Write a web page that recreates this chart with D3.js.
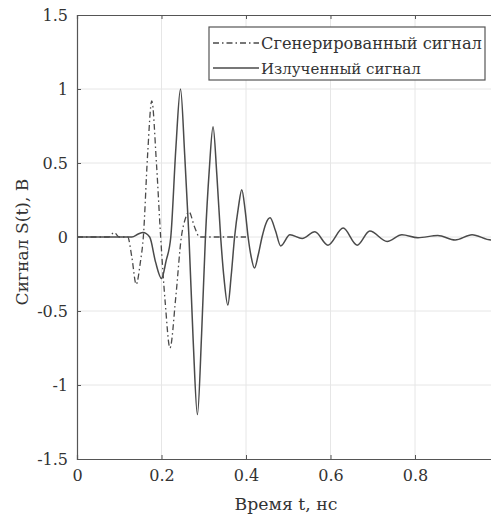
<!DOCTYPE html>
<html>
<head>
<meta charset="utf-8">
<script src="https://cdn.jsdelivr.net/npm/d3@7"></script>
<style>
  html, body { margin: 0; padding: 0; background: #fff; overflow: hidden; }
  svg { display: block; }
</style>
</head>
<body>
<div id="chart"></div>
<script>
// Generated signal (dash-dot)
const genT = [0, 0.075, 0.088, 0.1, 0.12, 0.13, 0.14, 0.15, 0.157, 0.167, 0.177, 0.188, 0.198, 0.209, 0.22, 0.234, 0.247, 0.256, 0.265, 0.278, 0.29, 0.3, 0.4];
const genS = [0, 0, 0.03, 0, 0, -0.14, -0.32, -0.17, 0, 0.55, 0.92, 0.5, 0, -0.45, -0.75, -0.4, 0, 0.12, 0.17, 0.07, 0, 0, 0];

// Emitted signal (solid)
const emitT = [0, 0.13, 0.145, 0.156, 0.172, 0.186, 0.2, 0.211, 0.222, 0.234, 0.245, 0.255, 0.265, 0.275, 0.285, 0.295, 0.304, 0.313, 0.322, 0.331, 0.34, 0.348, 0.357, 0.365, 0.373, 0.382, 0.39, 0.398, 0.405, 0.412, 0.42, 0.429, 0.438, 0.447, 0.457, 0.47, 0.482, 0.504, 0.533, 0.563, 0.594, 0.63, 0.663, 0.693, 0.734, 0.769, 0.807, 0.854, 0.895, 0.935, 0.98, 1.0];
const emitS = [0, 0, 0.02, 0.03, 0, -0.17, -0.28, -0.16, 0, 0.6, 1.0, 0.55, 0, -0.7, -1.2, -0.65, 0, 0.45, 0.745, 0.42, 0, -0.28, -0.46, -0.26, 0, 0.2, 0.32, 0.18, 0, -0.13, -0.21, -0.12, 0, 0.09, 0.13, 0.04, -0.06, 0.015, -0.01, 0.035, -0.055, 0.06, -0.055, 0.04, -0.03, 0.015, -0.005, 0.01, -0.02, 0.015, -0.02, -0.01];

const xTicks = [0, 0.2, 0.4, 0.6, 0.8, 1];
const yTicks = [-1.5, -1, -0.5, 0, 0.5, 1, 1.5];
const legendLabels = ['Сгенерированный сигнал', 'Излученный сигнал'];

const W = 491, H = 516;
// single serif family that carries Cyrillic (font lists fell back to sans here)
const FONT = '"DejaVu Serif"';
const lineColor = '#4a4a4a';

const svg = d3.select('#chart').append('svg')
  .attr('width', W).attr('height', H);

const x = d3.scaleLinear().domain([0, 1]).range([77, 499.5]);
const y = d3.scaleLinear().domain([-1.5, 1.5]).range([459, 15]);

// shrink/grow a text so its width matches the reference
function fitWidth(sel, target) {
  const w = sel.node().getComputedTextLength();
  const fs = parseFloat(sel.style('font-size'));
  if (w > 0) sel.style('font-size', (fs * target / w).toFixed(2) + 'px');
}

// grid
svg.append('g').selectAll('line').data(xTicks.slice(1)).enter().append('line')
  .attr('x1', d => x(d)).attr('x2', d => x(d))
  .attr('y1', y(-1.5)).attr('y2', y(1.5))
  .attr('stroke', '#e6e6e6').attr('stroke-width', 1);
svg.append('g').selectAll('line').data(yTicks.slice(1, -1)).enter().append('line')
  .attr('x1', x(0)).attr('x2', x(1))
  .attr('y1', d => y(d)).attr('y2', d => y(d))
  .attr('stroke', '#e6e6e6').attr('stroke-width', 1);

// curves
const gen = genT.map((t, i) => [t, genS[i]]);
const emit = emitT.map((t, i) => [t, emitS[i]]);
const line = d3.line().x(d => x(d[0])).y(d => y(d[1])).curve(d3.curveMonotoneX);

svg.append('path').datum(gen).attr('d', line)
  .attr('fill', 'none').attr('stroke', lineColor).attr('stroke-width', 1.3)
  .attr('stroke-dasharray', '6,3,1.5,3');
svg.append('path').datum(emit).attr('d', line)
  .attr('fill', 'none').attr('stroke', lineColor).attr('stroke-width', 1.5);

// axes (box style, ticks inside)
const axColor = '#555';
const fmt = d => String(d);
const xAxis = svg.append('g').attr('transform', `translate(0,${y(-1.5)})`)
  .call(d3.axisBottom(x).tickValues(xTicks).tickSize(-4).tickPadding(11).tickFormat(fmt));
const xAxisTop = svg.append('g').attr('transform', `translate(0,${y(1.5)})`)
  .call(d3.axisTop(x).tickValues(xTicks).tickSize(-4).tickFormat(''));
const yAxis = svg.append('g').attr('transform', `translate(${x(0)},0)`)
  .call(d3.axisLeft(y).tickValues(yTicks).tickSize(-4).tickPadding(9).tickFormat(fmt));

[xAxis, xAxisTop, yAxis].forEach(g => {
  g.select('.domain').attr('stroke', axColor).attr('stroke-width', 1.2);
  g.selectAll('.tick line').attr('stroke', axColor);
  g.selectAll('text').attr('fill', '#333')
    .style('font-family', FONT).style('font-size', '16px');
});
xAxis.selectAll('.tick').filter(d => d === 1).select('text').remove();

// axis labels
const xLabel = svg.append('text')
  .attr('x', 286).attr('y', 510)
  .attr('text-anchor', 'middle').attr('fill', '#333')
  .style('font-family', FONT).style('font-size', '18px')
  .text('Время t, нс');
fitWidth(xLabel, 103);

const yLabel = svg.append('text')
  .attr('transform', 'translate(28,242) rotate(-90)')
  .attr('text-anchor', 'middle').attr('fill', '#333')
  .style('font-family', FONT).style('font-size', '18px')
  .text('Сигнал S(t), В');
fitWidth(yLabel, 127);

// legend
const legend = svg.append('g');
legend.append('rect')
  .attr('x', 209).attr('y', 27).attr('width', 276).attr('height', 53)
  .attr('fill', '#fff').attr('stroke', axColor).attr('stroke-width', 1.2);
const ly = [43, 68];
const lw = [221, 160];
legendLabels.forEach((lbl, i) => {
  legend.append('line')
    .attr('x1', 213).attr('x2', 259).attr('y1', ly[i]).attr('y2', ly[i])
    .attr('stroke', lineColor).attr('stroke-width', i === 0 ? 1.3 : 1.5)
    .attr('stroke-dasharray', i === 0 ? '6,3,1.5,3' : null);
  const t = legend.append('text')
    .attr('x', 261).attr('y', ly[i] + 6).attr('fill', '#333')
    .style('font-family', FONT).style('font-size', '17px')
    .text(lbl);
  fitWidth(t, lw[i]);
});
</script>
</body>
</html>
